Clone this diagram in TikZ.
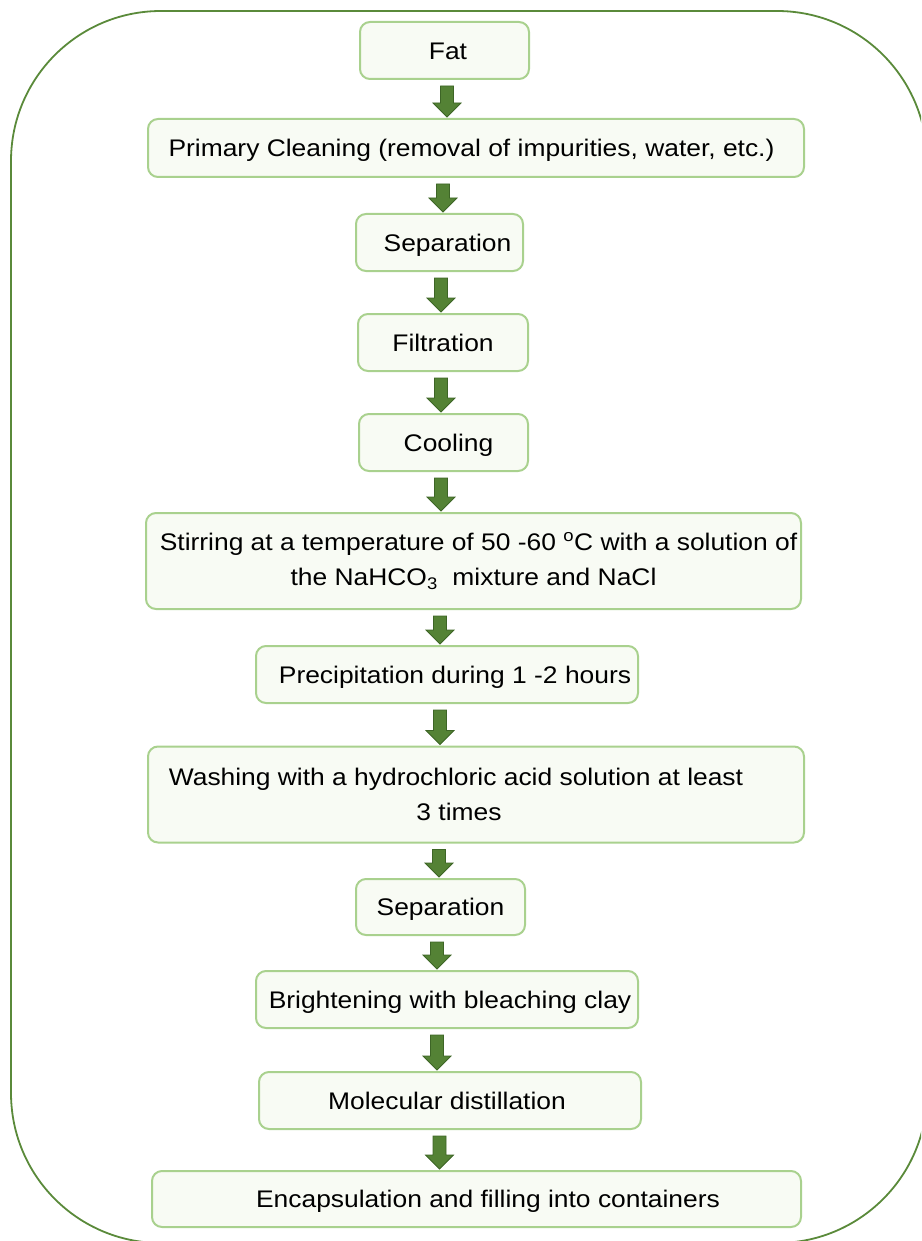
\documentclass[tikz,border=0pt]{standalone}
\usepackage{fontspec}
\setmainfont{Liberation Sans}[FakeStretch=1.1]
\usetikzlibrary{calc}
\definecolor{framegreen}{HTML}{5A8A3A}
\definecolor{boxline}{HTML}{A9D18E}
\definecolor{boxfill}{HTML}{F8FBF4}
\definecolor{arrowfill}{HTML}{548235}
\definecolor{arrowline}{HTML}{3D6526}
\tikzset{
  stepbox/.style={draw=boxline,fill=boxfill,line width=2pt,rounded corners=10pt,
    align=center,inner sep=0pt,font=\fontsize{24}{35}\selectfont},
  oneline/.style={stepbox,text height=17.5pt,text depth=0pt},
  blockarrow/.style={fill=arrowfill,draw=arrowline,line width=.8pt,line join=miter}
}
% block arrow from node #1 to node #2 at x=#3
\newcommand\flowarrow[3]{%
  \path (#3,0 |- #1.south) ++(0,6) coordinate (at-top);
  \path (#3,0 |- #2.north) ++(0,-1) coordinate (at-tip);
  \draw[blockarrow]([xshift=-6.5pt]at-top)--([xshift=6.5pt]at-top)
    --([xshift=6.5pt,yshift=14pt]at-tip)--([xshift=14pt,yshift=14pt]at-tip)--(at-tip)
    --([xshift=-14pt,yshift=14pt]at-tip)--([xshift=-6.5pt,yshift=14pt]at-tip)--cycle;}
\begin{document}
\begin{tikzpicture}[x=1pt,y=-1pt]
\useasboundingbox(0,0)rectangle(921,1241);
\clip(0,0)rectangle(921,1241);
%frame
\draw[framegreen,line width=1.8pt,rounded corners=150pt](11,11)rectangle(927,1243);
%boxes
\node[oneline,minimum width=169pt,minimum height=57pt](fat)at(444.5,50.5){\hspace*{7pt}Fat};
\node[oneline,minimum width=656pt,minimum height=58pt](clean)at(476,148){Primary Cleaning (removal of impurities, water, etc.)\hspace*{9pt}};
\node[oneline,minimum width=167pt,minimum height=57pt](sepa)at(439.5,242.5){\hspace*{16pt}Separation};
\node[oneline,minimum width=170pt,minimum height=57pt](filt)at(443,342.5){Filtration};
\node[oneline,minimum width=169pt,minimum height=57pt](cool)at(443.5,442.5){\hspace*{10pt}Cooling};
\node[stepbox,minimum width=655pt,minimum height=96pt](stir)at(473.5,561){\hspace*{10pt}Stirring at a temperature of 50 -60 \textsuperscript{o}C with a solution of\\the NaHCO\textsubscript{3}\ \ mixture and NaCl};
\node[oneline,minimum width=382pt,minimum height=57pt](prec)at(447,674.5){\hspace*{16pt}Precipitation during 1 -2 hours};
\node[stepbox,minimum width=656pt,minimum height=96pt](wash)at(476,794.5){Washing with a hydrochloric acid solution at least\hspace*{40pt}\\3 times\hspace*{34pt}};
\node[oneline,minimum width=169pt,minimum height=56pt](sepb)at(440.5,907){Separation};
\node[oneline,minimum width=382pt,minimum height=57pt](bright)at(447,999.5){\hspace*{6pt}Brightening with bleaching clay};
\node[oneline,minimum width=382pt,minimum height=57pt](mol)at(450,1100.5){Molecular distillation\hspace*{6pt}};
\node[oneline,minimum width=649pt,minimum height=56pt](enc)at(476.5,1199){\hspace*{23pt}Encapsulation and filling into containers};
%arrows
\flowarrow{fat}{clean}{447}
\flowarrow{clean}{sepa}{443}
\flowarrow{sepa}{filt}{441}
\flowarrow{filt}{cool}{441}
\flowarrow{cool}{stir}{441}
\flowarrow{stir}{prec}{440}
\flowarrow{prec}{wash}{440}
\flowarrow{wash}{sepb}{439}
\flowarrow{sepb}{bright}{437}
\flowarrow{bright}{mol}{437}
\flowarrow{mol}{enc}{439.5}
\end{tikzpicture}
\end{document}
